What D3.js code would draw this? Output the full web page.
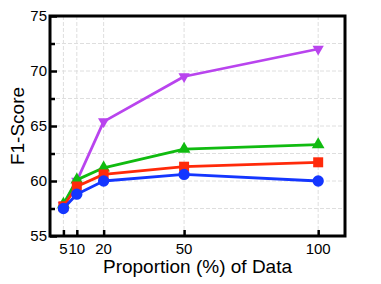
<!DOCTYPE html>
<html>
<head>
<meta charset="utf-8">
<script src="https://cdn.jsdelivr.net/npm/d3@7"></script>
<style>
  body { margin: 0; background: #fff; }
  text { font-family: "Liberation Sans", Arial, sans-serif; fill: #000; }
</style>
</head>
<body>
<svg id="chart" width="381" height="284"></svg>
<script>
const proportions = [5, 10, 20, 50, 100];
const xTicks = [5, 10, 20, 50, 100];
const yTicks = [55, 60, 65, 70, 75];
const yMinorTicks = [57.5, 62.5, 67.5, 72.5];

// drawn in this order (purple at the back, blue on top)
const purpleScores = [57.8, 60.0, 65.4, 69.5, 72.0];
const greenScores = [57.9, 60.1, 61.2, 62.9, 63.3];
const redScores = [57.7, 59.5, 60.6, 61.3, 61.7];
const blueScores = [57.5, 58.8, 60.0, 60.6, 60.0];

const series = [
  { values: purpleScores, color: "#b944ee", marker: "triDown" },
  { values: greenScores, color: "#10bb10", marker: "triUp" },
  { values: redScores, color: "#ff2a0a", marker: "square" },
  { values: blueScores, color: "#1436ff", marker: "circle" },
];

const margin = { left: 50, right: 36, top: 16, bottom: 48 };
const W = 381, H = 284;
const svg = d3.select("#chart");

const x = d3.scaleLinear().domain([0, 110]).range([margin.left, W - margin.right]);
const y = d3.scaleLinear().domain([55, 75]).range([H - margin.bottom, margin.top]);

// grid
const grid = svg.append("g").attr("stroke", "#dedede").attr("stroke-width", 1).attr("stroke-dasharray", "4,2");
grid.selectAll(".gx").data(xTicks).join("line")
  .attr("x1", d => x(d)).attr("x2", d => x(d))
  .attr("y1", y(55)).attr("y2", y(75));
grid.selectAll(".gy").data([57.5, 60, 62.5, 65, 67.5, 70, 72.5]).join("line")
  .attr("x1", x(0)).attr("x2", x(110))
  .attr("y1", d => y(d)).attr("y2", d => y(d));

// lines + markers
const line = d3.line().x((d, i) => x(proportions[i])).y(d => y(d));

const symbolFor = (m) => {
  if (m === "circle") return d3.symbol(d3.symbolCircle, 100)();
  if (m === "square") return d3.symbol(d3.symbolSquare, 100)();
  if (m === "triDown") return d3.symbol(d3.symbolTriangle, 55)();
  return d3.symbol(d3.symbolTriangle, 70)();
};

series.forEach(s => {
  svg.append("path")
    .attr("d", line(s.values))
    .attr("fill", "none")
    .attr("stroke", s.color)
    .attr("stroke-width", 2.8)
    .attr("stroke-linejoin", "round");
  svg.selectAll(null).data(s.values).join("path")
    .attr("d", symbolFor(s.marker))
    .attr("transform", (d, i) => `translate(${x(proportions[i])},${y(d)})` + (s.marker === "triDown" ? "rotate(180)" : ""))
    .attr("fill", s.color);
});

// frame
svg.append("rect")
  .attr("x", x(0)).attr("y", y(75))
  .attr("width", x(110) - x(0)).attr("height", y(55) - y(75))
  .attr("fill", "none").attr("stroke", "#000").attr("stroke-width", 3);

// axes with inward ticks
const xAxis = d3.axisTop(x).tickValues(xTicks).tickSize(6).tickFormat("");
svg.append("g").attr("transform", `translate(0,${y(55)})`).call(xAxis)
  .call(g => g.select(".domain").remove())
  .call(g => g.selectAll("line").attr("stroke-width", 2.5));

svg.selectAll(".xlab").data(xTicks).join("text")
  .attr("x", d => x(d)).attr("y", y(55) + 18)
  .attr("text-anchor", "middle").attr("font-size", 15)
  .text(d => d);

const yAxis = d3.axisRight(y).tickValues(yTicks).tickSize(7).tickFormat("");
svg.append("g").attr("transform", `translate(${x(0)},0)`).call(yAxis)
  .call(g => g.select(".domain").remove())
  .call(g => g.selectAll("line").attr("stroke-width", 2.5));
const yMinor = d3.axisRight(y).tickValues(yMinorTicks).tickSize(5).tickFormat("");
svg.append("g").attr("transform", `translate(${x(0)},0)`).call(yMinor)
  .call(g => g.select(".domain").remove())
  .call(g => g.selectAll("line").attr("stroke-width", 2.5));

svg.selectAll(".ylab").data(yTicks).join("text")
  .attr("x", x(0) - 3).attr("y", d => y(d) + 5)
  .attr("text-anchor", "end").attr("font-size", 15)
  .text(d => d);

// titles
svg.append("text")
  .attr("x", (x(0) + x(110)) / 2).attr("y", 273)
  .attr("text-anchor", "middle").attr("font-size", 19)
  .text("Proportion (%) of Data");

svg.append("text")
  .attr("transform", `translate(24,${(y(55) + y(75)) / 2}) rotate(-90)`)
  .attr("text-anchor", "middle").attr("font-size", 19)
  .text("F1-Score");
</script>
</body>
</html>
